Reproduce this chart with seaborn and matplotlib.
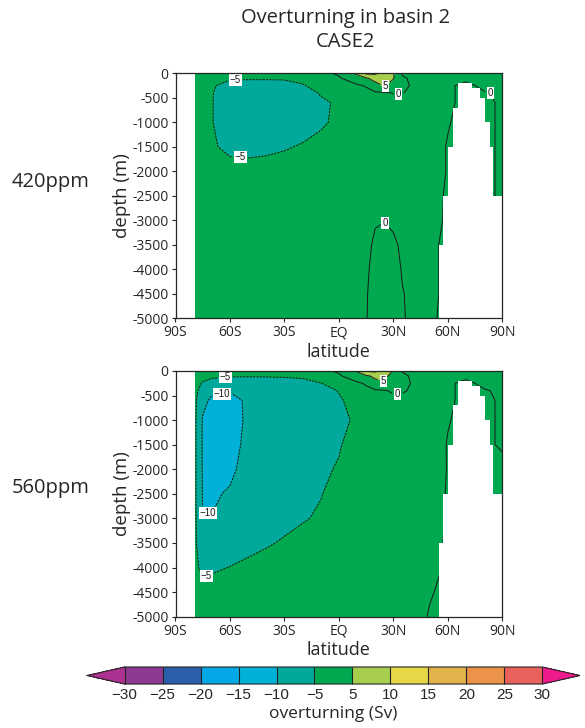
import numpy as np
import matplotlib
matplotlib.use('Agg')
import matplotlib.pyplot as plt
from matplotlib.colors import ListedColormap, BoundaryNorm
import seaborn as sns

# grid of the streamfunction
lat = [-79, -75, -70, -60, -50, -40, -30, -20, -10, 0, 10, 15, 20, 25, 30, 35, 40, 50, 60, 70, 80, 90]
depth = [0, 100, 250, 400, 600, 1000, 1500, 2000, 2500, 3000, 3500, 4000, 4500, 5000]

# overturning (Sv), rows = depth, columns = lat
psi_420 = [
    [-0.5, -0.5, -0.5, -0.5, -0.5, -0.5, -0.5, -0.5, -1.0, 0.5, 6.0, 11.0, 11.0, 8.0, 5.5, -0.5, -0.5, -0.5, -0.3, -0.3, -0.3, -0.2],
    [-1.0, -1.5, -2.5, -4.5, -4.5, -4.5, -4.5, -4.0, -2.0, -0.4, 2.5, 4.5, 6.5, 6.5, 5.2, 0.5, -0.5, -0.5, -0.3, -0.3, -0.3, -0.2],
    [-1.5, -2.5, -4.5, -6.5, -7.0, -7.0, -6.5, -5.3, -3.5, -2.0, -0.5, 0.3, 3.5, 5.3, 3.5, 1.0, -0.3, -0.5, -0.2, 0.3, -0.3, -0.2],
    [-2.0, -3.0, -4.8, -7.0, -7.5, -7.5, -7.5, -6.5, -4.7, -2.5, -1.5, -1.0, -0.6, -0.4, 0.1, 0.1, -0.5, -0.5, -0.2, 0.3, 0.1, -0.2],
    [-2.0, -3.2, -4.8, -7.5, -8.0, -8.0, -7.5, -7.0, -5.6, -4.5, -2.0, -1.6, -1.3, -1.0, -0.8, -0.6, -0.5, -0.5, -0.2, 0.3, 0.3, -0.2],
    [-2.0, -3.2, -4.8, -7.5, -8.0, -7.5, -7.0, -6.5, -5.5, -4.3, -2.5, -2.0, -1.7, -1.4, -1.2, -1.0, -0.8, -0.6, -0.1, 0.5, 0.3, -0.2],
    [-2.0, -3.0, -4.6, -5.8, -6.0, -5.8, -5.3, -4.7, -4.0, -3.5, -2.5, -2.2, -1.9, -1.7, -1.5, -1.3, -1.1, -0.7, 0.1, 0.5, 0.3, -0.2],
    [-1.5, -2.5, -3.5, -3.8, -3.8, -3.6, -3.5, -3.2, -3.0, -2.8, -2.2, -2.0, -1.8, -1.5, -1.5, -1.5, -1.2, -0.8, 0.1, 0.5, 0.3, -0.2],
    [-1.3, -2.0, -2.8, -3.0, -3.0, -2.9, -2.8, -2.6, -2.4, -2.2, -1.6, -1.3, -1.0, -0.9, -1.0, -1.1, -1.0, -0.6, 0.2, 0.5, 0.3, -0.2],
    [-1.2, -1.7, -2.3, -2.5, -2.5, -2.4, -2.2, -2.0, -1.7, -1.4, -1.0, -0.3, -0.1, -0.05, -0.3, -0.7, -0.8, -0.5, 0.2, 0.5, 0.5, 0.5],
    [-1.0, -1.4, -1.9, -2.1, -2.1, -2.0, -1.8, -1.6, -1.3, -1.0, -0.7, -0.3, 0.2, 0.6, 0.3, -0.3, -0.6, -0.3, 0.3, 0.5, 0.5, 0.5],
    [-0.8, -1.2, -1.6, -1.8, -1.8, -1.7, -1.5, -1.3, -1.0, -0.8, -0.5, -0.2, 0.4, 0.8, 0.5, -0.1, -0.4, -0.3, 0.3, 0.5, 0.5, 0.5],
    [-0.6, -0.9, -1.2, -1.4, -1.4, -1.3, -1.2, -1.0, -0.8, -0.6, -0.3, -0.1, 0.5, 0.8, 0.5, 0.05, -0.2, -0.3, 0.3, 0.5, 0.5, 0.5],
    [-0.3, -0.5, -0.7, -0.8, -0.8, -0.7, -0.6, -0.5, -0.4, -0.3, -0.2, -0.05, 0.4, 0.6, 0.4, 0.05, -0.1, -0.2, 0.3, 0.5, 0.5, 0.5],
]

psi_560 = [
    [-0.5, -0.5, -0.5, -0.5, -0.5, -0.5, -0.5, -0.5, -0.8, 0.5, 5.5, 10.5, 11.0, 7.0, 4.8, -0.3, -0.5, -0.5, -0.3, -0.3, -0.3, -0.2],
    [-2.0, -3.0, -4.0, -4.5, -4.6, -4.6, -4.5, -4.2, -2.5, -0.5, 2.5, 4.3, 6.0, 6.0, 3.5, 0.8, -0.4, -0.5, -0.3, -0.3, -0.3, -0.2],
    [-3.0, -5.5, -7.0, -8.0, -8.0, -7.5, -7.0, -6.5, -5.1, -3.5, -0.6, 0.4, 3.5, 4.5, 3.5, 1.5, -0.2, -0.5, -0.2, 0.3, -0.3, -0.2],
    [-4.0, -7.0, -9.0, -9.8, -9.8, -9.0, -8.5, -7.5, -6.5, -4.8, -1.5, -0.8, -0.5, -0.3, 0.5, 0.3, -0.3, -0.5, -0.2, 0.3, 0.1, -0.2],
    [-4.5, -8.5, -11.0, -11.0, -9.5, -9.0, -8.7, -8.0, -7.0, -5.5, -3.5, -2.5, -1.8, -1.3, -1.0, -0.8, -0.6, -0.5, -0.2, 0.3, 0.3, -0.2],
    [-4.6, -10.5, -12.0, -12.0, -9.2, -8.5, -8.0, -7.5, -6.5, -5.8, -4.5, -3.5, -2.8, -2.2, -1.8, -1.5, -1.2, -0.8, -0.1, 0.5, 0.3, -0.2],
    [-4.6, -10.5, -11.5, -11.0, -9.3, -8.0, -7.5, -7.0, -6.0, -5.2, -4.0, -3.4, -2.9, -2.5, -2.2, -1.9, -1.6, -1.0, 0.1, 0.5, 0.3, -0.2],
    [-4.6, -10.5, -11.0, -10.8, -8.5, -7.3, -6.8, -6.2, -5.4, -4.8, -3.6, -3.1, -2.7, -2.4, -2.1, -1.9, -1.7, -1.2, 0.1, 0.5, 0.5, 0.5],
    [-4.6, -10.3, -10.5, -9.6, -7.5, -6.6, -6.0, -5.6, -5.1, -4.2, -3.4, -3.0, -2.6, -2.3, -2.0, -1.8, -1.6, -1.2, 0.2, 0.5, 0.5, 0.5],
    [-4.6, -9.9, -9.9, -8.5, -7.2, -6.4, -5.8, -5.2, -4.7, -3.9, -3.1, -2.7, -2.4, -2.1, -1.8, -1.6, -1.4, -1.0, 0.2, 0.5, 0.5, 0.5],
    [-4.5, -8.5, -8.0, -7.0, -6.0, -5.3, -4.7, -4.2, -3.8, -3.2, -2.6, -2.3, -2.0, -1.8, -1.6, -1.4, -1.2, -0.8, 0.3, 0.5, 0.5, 0.5],
    [-4.2, -6.0, -5.6, -4.9, -4.3, -3.9, -3.5, -3.2, -2.9, -2.5, -2.1, -1.9, -1.7, -1.5, -1.3, -1.2, -1.0, -0.6, 0.3, 0.5, 0.5, 0.5],
    [-3.0, -3.5, -3.3, -3.0, -2.8, -2.6, -2.4, -2.2, -2.0, -1.7, -1.4, -1.2, -1.0, -0.9, -0.8, -0.7, -0.6, -0.1, 0.3, 0.5, 0.5, 0.5],
    [-1.5, -1.5, -1.5, -1.4, -1.3, -1.2, -1.1, -1.0, -0.9, -0.8, -0.7, -0.6, -0.5, -0.5, -0.4, -0.4, -0.6, 0.1, 0.3, 0.5, 0.5, 0.5],
]

# bottom topography of the basin (top of land in each latitude band)
land_lat = [54.9, 57.5, 60.2, 62.6, 65.4, 73.1, 77.7, 80.5, 83.2, 85.0, 90.0]
land_top = [3500, 2500, 1500, 700, 200, 300, 500, 1000, 1500, 2500, 2500]

levels = [-30, -25, -20, -15, -10, -5, 5, 10, 15, 20, 25, 30]
colors = ['#8d3b91', '#2c5fab', '#03a9e6', '#00b1d7', '#00a99b', '#00a850',
          '#a7cf4d', '#e7d646', '#e2b24b', '#ec934a', '#e8625b']
under_color = '#ad3190'
over_color = '#ec1a8c'
line_levels = [-10, -5, 0, 5, 10]

lat_ticks = [-90, -60, -30, 0, 30, 60, 90]
lat_labels = ['90S', '60S', '30S', 'EQ', '30N', '60N', '90N']
depth_ticks = list(range(0, -5001, -500))

rows = ['420ppm', '560ppm']
label_pos = [
    [(-57, -171), (-54.5, -1750), (25.7, -240), (33, -420), (85, -355), (25.4, -3060)],
    [(-62.7, -115), (-64.6, -441), (-72.8, -3032), (-72.8, -4186), (24.4, -197), (32.2, -420)],
]

sns.set_style('ticks')
plt.rcParams['font.family'] = ['Open Sans', 'DejaVu Sans']
plt.rcParams['axes.unicode_minus'] = False

cmap = ListedColormap(sns.color_palette(colors))
cmap.set_under(under_color)
cmap.set_over(over_color)
norm = BoundaryNorm(levels, cmap.N)

fig = plt.figure(figsize=(5.85, 7.28), dpi=100)
ax1 = fig.add_axes([0.300, 0.5628, 0.5586, 0.3365])
ax2 = fig.add_axes([0.300, 0.1529, 0.5586, 0.3375])

x = np.array(lat)
y = -np.array(depth)


def fmt(v):
    return '%d' % v if v >= 0 else '\u2212%d' % (-v)


for ax, psi, name, pos in zip([ax1, ax2], [psi_420, psi_560], rows, label_pos):
    z = np.array(psi)
    cf = ax.contourf(x, y, z, levels=levels, cmap=cmap, norm=norm, extend='both', zorder=1)
    ls = [(0, (2.2, 1.2)) if v < 0 else 'solid' for v in line_levels]
    cs = ax.contour(x, y, z, levels=line_levels, colors='#1a1a1a', linewidths=0.7,
                    linestyles=ls, zorder=2)
    # land
    ax.fill_between(land_lat, [-d for d in land_top], -5000, step='post',
                    color='white', lw=0, zorder=2.4)
    txt = ax.clabel(cs, fmt=fmt, fontsize=7, inline=True, inline_spacing=3, manual=pos)
    for t in txt:
        t.set_rotation(0)
        t.set_bbox(dict(facecolor='white', edgecolor='none', pad=0.7))
        t.set_fontfamily('Liberation Sans')
        t.set_zorder(5)

    ax.set_xlim(-90, 90)
    ax.set_ylim(-5000, 0)
    ax.set_xticks(lat_ticks)
    ax.set_xticklabels(lat_labels)
    ax.set_yticks(depth_ticks)
    ax.set_yticklabels([str(v) for v in depth_ticks])
    ax.tick_params(labelsize=10, length=3, width=0.8, pad=2)
    for s in ax.spines.values():
        s.set_linewidth(0.9)
        s.set_zorder(6)
    ax.set_xlabel('latitude', fontsize=13, labelpad=2)
    ax.set_ylabel('depth (m)', fontsize=13.5, labelpad=1)

fig.text(0.087, 1 - 182 / 728, rows[0], fontsize=14.5, ha='center', va='center')
fig.text(0.087, 1 - 488 / 728, rows[1], fontsize=14.5, ha='center', va='center')

fig.text(0.59, 1 - 18 / 728, 'Overturning in basin 2', fontsize=14.5, ha='center', va='center')
fig.text(0.59, 1 - 42 / 728, 'CASE2', fontsize=14.5, ha='center', va='center')

cax = fig.add_axes([0.1487, 0.0604, 0.8427, 0.0234])
cb = fig.colorbar(cf, cax=cax, orientation='horizontal', extend='both',
                  extendfrac=0.09, drawedges=True, ticks=levels)
cb.outline.set_linewidth(0.8)
cb.dividers.set_linewidth(0.8)
cb.dividers.set_color('#222222')
cax.set_xticklabels([fmt(v) for v in levels], fontfamily='Liberation Sans', fontsize=11)
cax.tick_params(length=0, pad=3)
cb.set_label('overturning (Sv)', fontsize=12.5, labelpad=3)

fig.savefig('out.png', dpi=100)
